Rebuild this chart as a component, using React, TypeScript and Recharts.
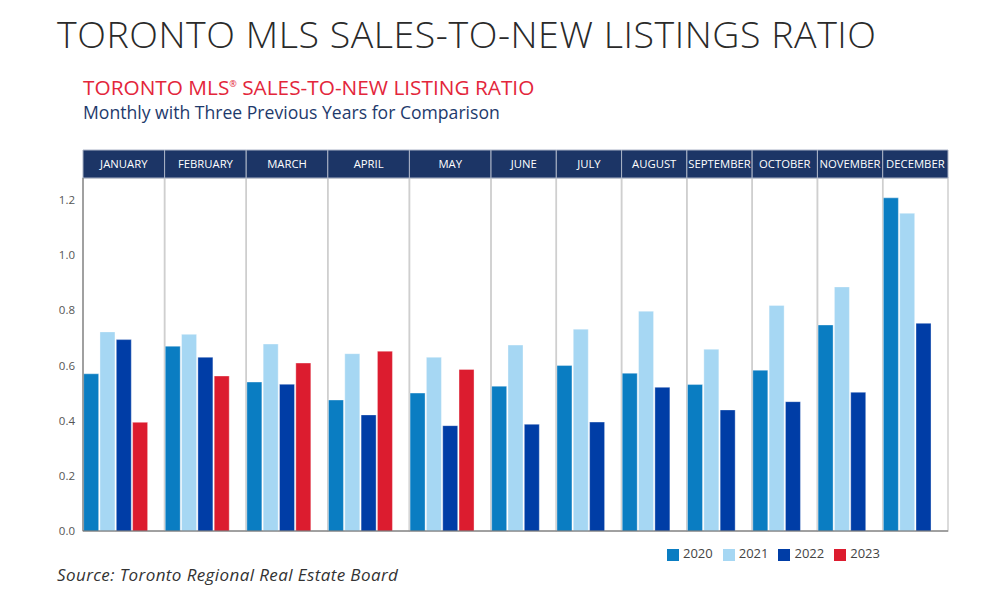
import React from 'react';
import { BarChart, Bar, XAxis, YAxis, Legend, ReferenceArea } from 'recharts';

const MONTHS = [
  'JANUARY', 'FEBRUARY', 'MARCH', 'APRIL', 'MAY', 'JUNE',
  'JULY', 'AUGUST', 'SEPTEMBER', 'OCTOBER', 'NOVEMBER', 'DECEMBER',
];
const YEARS = ['2020', '2021', '2022', '2023'];

const RATIO_2020 = [0.57, 0.67, 0.54, 0.475, 0.5, 0.525, 0.6, 0.572, 0.531, 0.583, 0.747, 1.208];
const RATIO_2021 = [0.722, 0.713, 0.678, 0.643, 0.63, 0.674, 0.732, 0.797, 0.659, 0.818, 0.885, 1.152];
const RATIO_2022 = [0.694, 0.63, 0.532, 0.421, 0.382, 0.387, 0.395, 0.521, 0.439, 0.469, 0.503, 0.753];
const RATIO_2023 = [0.394, 0.562, 0.609, 0.652, 0.586];

const Y_TICKS = [0, 0.2, 0.4, 0.6, 0.8, 1.0, 1.2];

const COLORS: Record<string, string> = {
  '2020': '#0a7dc2', // mid blue
  '2021': '#a6d7f3', // light blue
  '2022': '#003da6', // navy
  '2023': '#dc1c2f', // red
};

const SERIES: Record<string, number[]> = {
  '2020': RATIO_2020,
  '2021': RATIO_2021,
  '2022': RATIO_2022,
  '2023': RATIO_2023,
};

// one slot per bar, plus an empty slot closing each month
const rows: Record<string, any>[] = [];
MONTHS.forEach((m, i) => {
  YEARS.forEach(y => {
    const v = SERIES[y][i];
    if (v !== undefined) rows.push({ slot: `${m}-${y}`, month: m, [y]: v });
  });
  rows.push({ slot: `${m}-gap`, month: m });
});

const Y_MAX = 1.28;
const HEADER_TOP = 1.3815;

export default function App() {
  return (
    <div
      style={{
        position: 'absolute',
        left: 0,
        top: 0,
        width: 995,
        height: 597,
        background: '#fff',
        fontFamily: '"Open Sans", sans-serif',
      }}
    >
      <div style={{ position: 'absolute', left: 57, top: 15, fontSize: 37.5, fontWeight: 300, letterSpacing: 0.55, lineHeight: 1, color: '#2a2a2a', whiteSpace: 'nowrap' }}>
        TORONTO MLS SALES-TO-NEW LISTINGS RATIO
      </div>
      <div style={{ position: 'absolute', left: 83, top: 77, fontSize: 20.8, lineHeight: 1, color: '#e3263b', whiteSpace: 'nowrap' }}>
        TORONTO MLS<sup style={{ fontSize: 9 }}>®</sup> SALES-TO-NEW LISTING RATIO
      </div>
      <div style={{ position: 'absolute', left: 83, top: 104, fontSize: 17.6, lineHeight: 1, color: '#1e3a6c', whiteSpace: 'nowrap' }}>
        Monthly with Three Previous Years for Comparison
      </div>

      <div style={{ position: 'absolute', left: 0, top: 140 }}>
        <BarChart
          width={995}
          height={430}
          data={rows}
          margin={{ top: 38, right: 47, bottom: 8, left: 23 }}
          barCategoryGap="4%"
        >
          <XAxis dataKey="slot" type="category" tick={false} tickLine={false} height={1} axisLine={{ stroke: '#666' }} />
          <YAxis
            type="number"
            domain={[0, Y_MAX]}
            ticks={Y_TICKS}
            width={60}
            tickLine={false}
            axisLine={{ stroke: '#666' }}
            tick={{ fill: '#555', fontSize: 11.5 }}
            tickFormatter={(v: number) => v.toFixed(1)}
          />
          {MONTHS.map(m => (
            <ReferenceArea
              key={`col-${m}`}
              x1={`${m}-2020`}
              x2={`${m}-gap`}
              y1={0}
              y2={Y_MAX}
              fill="none"
              stroke="#cfcfcf"
              strokeWidth={1.5}
            />
          ))}
          {MONTHS.map(m => (
            <ReferenceArea
              key={`head-${m}`}
              x1={`${m}-2020`}
              x2={`${m}-gap`}
              y1={Y_MAX}
              y2={HEADER_TOP}
              ifOverflow="visible"
              fill="#1c3566"
              fillOpacity={1}
              stroke="#aab3c6"
              strokeWidth={1}
              label={{ value: m, position: 'center', fill: '#ffffff', fontSize: 11.3 }}
            />
          ))}
          {YEARS.map(y => (
            <Bar
              key={y}
              dataKey={y}
              name={y}
              stackId="ratio"
              fill={COLORS[y]}
              stroke="rgba(255,255,255,0.35)"
              strokeWidth={1}
              isAnimationActive={false}
            />
          ))}
          <Legend
            iconType="square"
            iconSize={12}
            align="left"
            verticalAlign="bottom"
            wrapperStyle={{ left: 667, width: 300, paddingTop: 12, fontSize: 13 }}
            formatter={(value: string) => <span style={{ color: '#444' }}>{value}</span>}
          />
        </BarChart>
      </div>

      <div style={{ position: 'absolute', left: 57, top: 566, fontSize: 17, letterSpacing: 0.4, lineHeight: 1, fontStyle: 'italic', color: '#333', whiteSpace: 'nowrap' }}>
        Source: Toronto Regional Real Estate Board
      </div>
    </div>
  );
}
